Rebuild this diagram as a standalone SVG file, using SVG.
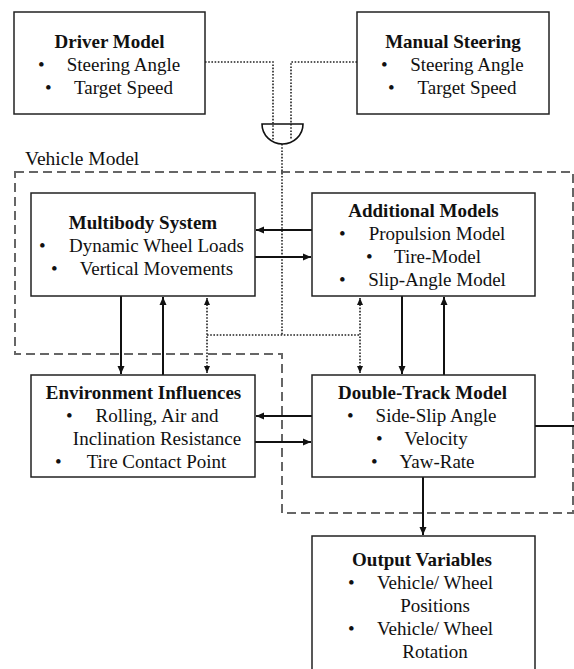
<svg xmlns="http://www.w3.org/2000/svg" width="574" height="669" viewBox="0 0 574 669">
<defs>
<style>
.box{fill:#fff;stroke:#222;stroke-width:1.5}
text{font-family:"Liberation Serif","Times New Roman",serif;font-size:19px;fill:#111}
.t{font-weight:bold;text-anchor:middle}
.c{text-anchor:middle}
.solid{fill:none;stroke:#111;stroke-width:2}
.dot{fill:none;stroke:#222;stroke-width:1.6;stroke-dasharray:1.6 1.6}
.dash{fill:none;stroke:#666;stroke-width:2;stroke-dasharray:9 5}
</style>
<marker id="ah" markerUnits="userSpaceOnUse" markerWidth="9" markerHeight="8" refX="8" refY="4" orient="auto-start-reverse"><path d="M0,0.5 L8,4 L0,7.5 z" fill="#111"/></marker>
<marker id="ahs" markerUnits="userSpaceOnUse" markerWidth="8" markerHeight="7" refX="7" refY="3.5" orient="auto-start-reverse"><path d="M0,0.5 L7,3.5 L0,6.5 z" fill="#111"/></marker>
</defs>

<g id="vehicle-model">
<path class="dash" d="M15,172 H573 V513 H282 V354 H15 Z"/>
<text x="25" y="165" style="font-size:19.5px">Vehicle Model</text>
</g>

<g id="connectors">
<path class="dot" d="M205,62 H273 V140"/>
<path class="dot" d="M357,62 H291 V140"/>
<path class="dot" d="M282,144 V335"/>
<path class="dot" d="M207,335 H360"/>
<line class="dot" x1="207" y1="298" x2="207" y2="373" marker-start="url(#ahs)" marker-end="url(#ahs)"/>
<line class="dot" x1="360" y1="298" x2="360" y2="373" marker-start="url(#ahs)" marker-end="url(#ahs)"/>
<line class="solid" x1="312" y1="230" x2="256" y2="230" marker-end="url(#ah)"/>
<line class="solid" x1="255" y1="257" x2="311" y2="257" marker-end="url(#ah)"/>
<line class="solid" x1="121" y1="296" x2="121" y2="374" marker-end="url(#ah)"/>
<line class="solid" x1="163" y1="375" x2="163" y2="297" marker-end="url(#ah)"/>
<line class="solid" x1="402" y1="296" x2="402" y2="374" marker-end="url(#ah)"/>
<line class="solid" x1="444" y1="375" x2="444" y2="297" marker-end="url(#ah)"/>
<line class="solid" x1="312" y1="416" x2="256" y2="416" marker-end="url(#ah)"/>
<line class="solid" x1="255" y1="442" x2="311" y2="442" marker-end="url(#ah)"/>
<line class="solid" x1="423" y1="477" x2="423" y2="535" marker-end="url(#ah)"/>
<line class="solid" x1="535" y1="426" x2="574" y2="426"/>
</g>

<g id="or-gate">
<path d="M262,124 H303 A20.5,20 0 0 1 262,124 Z" fill="none" stroke="#111" stroke-width="1.6"/>
</g>

<g id="driver-model">
<rect class="box" x="14" y="12" width="191" height="102"/>
<text class="t" x="109.5" y="48">Driver Model</text>
<text x="38" y="71">•</text><text class="c" x="123.5" y="71">Steering Angle</text>
<text x="45" y="94">•</text><text class="c" x="123.5" y="94">Target Speed</text>
</g>

<g id="manual-steering">
<rect class="box" x="357" y="12" width="192" height="102"/>
<text class="t" x="453" y="48">Manual Steering</text>
<text x="381" y="71">•</text><text class="c" x="467" y="71">Steering Angle</text>
<text x="388" y="94">•</text><text class="c" x="467" y="94">Target Speed</text>
</g>

<g id="multibody-system">
<rect class="box" x="31" y="193" width="224" height="103"/>
<text class="t" x="143" y="229">Multibody System</text>
<text x="39" y="252">•</text><text class="c" x="156.5" y="252">Dynamic Wheel Loads</text>
<text x="51" y="275">•</text><text class="c" x="156.5" y="275">Vertical Movements</text>
</g>

<g id="additional-models">
<rect class="box" x="312" y="193" width="223" height="103"/>
<text class="t" x="423.5" y="217">Additional Models</text>
<text x="339" y="240">•</text><text class="c" x="437" y="240">Propulsion Model</text>
<text x="366" y="263">•</text><text class="c" x="437.5" y="263">Tire-Model</text>
<text x="339" y="286">•</text><text class="c" x="437" y="286">Slip-Angle Model</text>
</g>

<g id="environment-influences">
<rect class="box" x="31" y="375" width="224" height="102"/>
<text class="t" x="143.5" y="399">Environment Influences</text>
<text x="66" y="422">•</text><text class="c" x="157" y="422">Rolling, Air and</text>
<text class="c" x="157" y="445">Inclination Resistance</text>
<text x="55" y="468">•</text><text class="c" x="156.5" y="468">Tire Contact Point</text>
</g>

<g id="double-track-model">
<rect class="box" x="312" y="375" width="223" height="102"/>
<text class="t" x="422.5" y="399">Double-Track Model</text>
<text x="347" y="422">•</text><text class="c" x="436" y="422">Side-Slip Angle</text>
<text x="376" y="445">•</text><text class="c" x="436" y="445">Velocity</text>
<text x="371" y="468">•</text><text class="c" x="437" y="468">Yaw-Rate</text>
</g>

<g id="output-variables">
<rect class="box" x="312" y="536" width="223" height="140"/>
<text class="t" x="422" y="566">Output Variables</text>
<text x="348" y="589">•</text><text class="c" x="435" y="589">Vehicle/ Wheel</text>
<text class="c" x="435" y="612">Positions</text>
<text x="348" y="635">•</text><text class="c" x="435" y="635">Vehicle/ Wheel</text>
<text class="c" x="435" y="658">Rotation</text>
</g>
</svg>
